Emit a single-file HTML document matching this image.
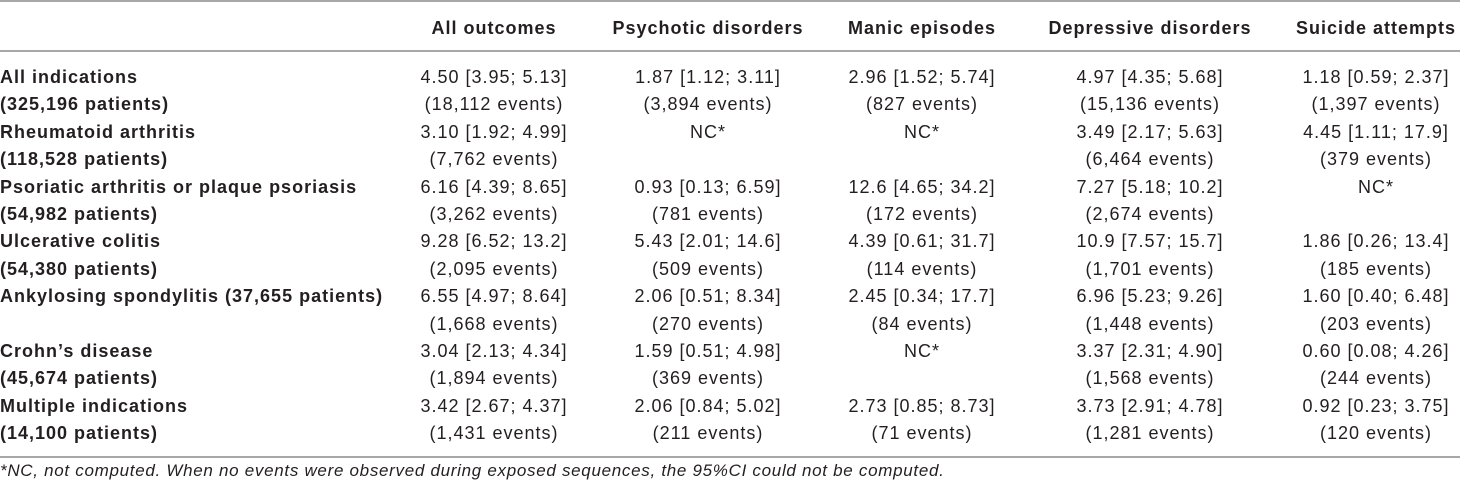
<!DOCTYPE html>
<html><head><meta charset="utf-8">
<style>
body{margin:0;background:#fff;width:1460px;height:488px;overflow:hidden;position:relative;font-family:"Liberation Sans",Arial,sans-serif;color:#231f20}
.t{position:absolute;white-space:nowrap;line-height:20px;height:20px;font-size:18px;letter-spacing:1px}
.c{transform:translateX(-50%)}
.b{font-weight:bold}
.rule{position:absolute;left:0;width:1460px;height:2px;background:#a7a7a7}
</style></head>
<body>
<div class="rule" style="top:0px"></div>
<div class="rule" style="top:50px"></div>
<div class="rule" style="top:456px"></div>
<div class="t" style="left:0;top:461px;font-style:italic;font-size:17px;letter-spacing:0.7px">*NC, not computed. When no events were observed during exposed sequences, the 95%CI could not be computed.</div>
<script>
const headers=["All outcomes","Psychotic disorders","Manic episodes","Depressive disorders","Suicide attempts"];
const rowLabels=[["All indications","(325,196 patients)"],["Rheumatoid arthritis","(118,528 patients)"],["Psoriatic arthritis or plaque psoriasis","(54,982 patients)"],["Ulcerative colitis","(54,380 patients)"],["Ankylosing spondylitis (37,655 patients)",""],["Crohn\u2019s disease","(45,674 patients)"],["Multiple indications","(14,100 patients)"]];
const estimates=[
["4.50 [3.95; 5.13]","1.87 [1.12; 3.11]","2.96 [1.52; 5.74]","4.97 [4.35; 5.68]","1.18 [0.59; 2.37]"],
["3.10 [1.92; 4.99]","NC*","NC*","3.49 [2.17; 5.63]","4.45 [1.11; 17.9]"],
["6.16 [4.39; 8.65]","0.93 [0.13; 6.59]","12.6 [4.65; 34.2]","7.27 [5.18; 10.2]","NC*"],
["9.28 [6.52; 13.2]","5.43 [2.01; 14.6]","4.39 [0.61; 31.7]","10.9 [7.57; 15.7]","1.86 [0.26; 13.4]"],
["6.55 [4.97; 8.64]","2.06 [0.51; 8.34]","2.45 [0.34; 17.7]","6.96 [5.23; 9.26]","1.60 [0.40; 6.48]"],
["3.04 [2.13; 4.34]","1.59 [0.51; 4.98]","NC*","3.37 [2.31; 4.90]","0.60 [0.08; 4.26]"],
["3.42 [2.67; 4.37]","2.06 [0.84; 5.02]","2.73 [0.85; 8.73]","3.73 [2.91; 4.78]","0.92 [0.23; 3.75]"]];
const events=[
["(18,112 events)","(3,894 events)","(827 events)","(15,136 events)","(1,397 events)"],
["(7,762 events)","","","(6,464 events)","(379 events)"],
["(3,262 events)","(781 events)","(172 events)","(2,674 events)",""],
["(2,095 events)","(509 events)","(114 events)","(1,701 events)","(185 events)"],
["(1,668 events)","(270 events)","(84 events)","(1,448 events)","(203 events)"],
["(1,894 events)","(369 events)","","(1,568 events)","(244 events)"],
["(1,431 events)","(211 events)","(71 events)","(1,281 events)","(120 events)"]];
const colX=[494,708,922,1150,1376];
const y0=77, lh=27.4;
function mk(txt,x,y,cls){const d=document.createElement('div');d.className='t '+cls;d.textContent=txt;d.style.left=x+'px';d.style.top=(y-10)+'px';document.body.appendChild(d);return d;}
headers.forEach((h,i)=>{const d=mk(h,colX[i],28,'c b');

});
rowLabels.forEach((r,ri)=>{
 const ya=y0+ri*2*lh, yb=ya+lh;
 const a=mk(r[0],0,ya,'b');
 
 
 if(r[1]){const b=mk(r[1],0,yb,'b');
 
 }
 estimates[ri].forEach((e,ci)=>{const d=mk(e,colX[ci],ya,'c');
 
 });
 events[ri].forEach((e,ci)=>{if(!e)return;const d=mk(e,colX[ci],yb,'c');
 
 });
});
</script>
</body></html>
